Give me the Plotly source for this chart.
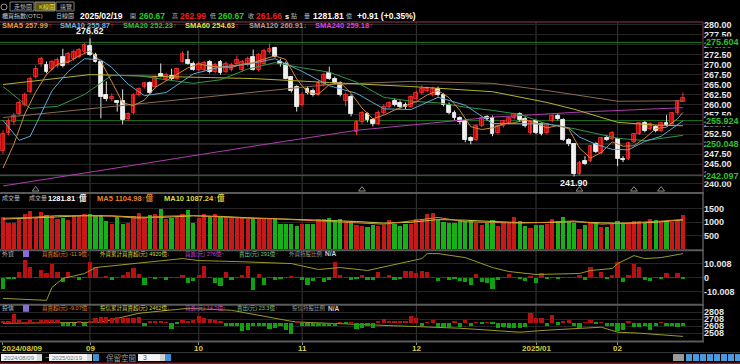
import plotly.graph_objects as go

W, H = 740, 364
def px(x): return x / W
def py(y): return 1 - y / H

# ---------------- data ----------------
tick_idx = [0, 16, 36, 55, 76, 98, 113]
tick_text = ["2024/08/09", "09", "10", "11", "12", "2025/01", "02"]

open_ = [248.3,252.8,255.5,257.7,260.0,263.2,267.0,270.2,270.0,269.0,269.8,272.0,270.8,271.5,272.0,273.2,274.8,272.5,270.8,262.5,
         261.5,260.8,260.8,256.3,257.8,262.5,264.5,265.3,264.5,267.8,266.5,267.3,266.5,270.8,271.3,270.3,268.8,268.8,270.8,268.3,
         270.8,268.3,268.8,270.3,268.8,270.0,272.0,268.8,270.3,273.3,274.3,270.8,270.3,266.8,264.5,259.8,264.0,263.5,262.5,265.0,
         268.0,266.5,265.3,261.0,262.0,253.0,255.5,257.5,256.0,255.0,258.0,259.3,261.0,260.5,260.0,259.5,261.5,262.8,263.3,262.5,
         264.0,262.5,260.0,258.0,256.5,255.8,251.5,251.0,254.5,256.8,256.5,252.8,254.5,255.3,256.5,257.5,256.3,252.8,255.8,255.0,
         252.8,255.8,257.0,256.0,251.0,250.0,242.5,245.8,245.8,250.0,247.8,251.5,251.3,251.3,246.3,246.3,250.5,252.5,255.3,253.8,
         254.3,253.3,255.3,255.0,257.8,260.67]
high = [253.5,256.5,257.8,261.0,263.0,267.0,269.8,272.0,270.8,271.2,271.8,274.0,273.2,273.8,274.2,275.5,276.62,273.0,271.0,265.8,
        262.8,261.0,263.8,258.0,262.8,264.3,265.5,265.8,267.3,270.3,268.0,269.0,269.3,273.3,273.5,270.8,270.8,271.0,271.2,270.5,
        271.2,270.8,270.5,272.3,271.2,272.0,273.8,273.0,274.0,275.3,274.5,271.5,270.8,267.0,264.8,263.0,264.5,264.0,266.0,268.0,
        269.5,267.0,265.8,263.0,262.5,256.0,258.3,258.0,256.5,258.5,260.0,260.8,261.5,261.0,260.5,262.3,263.5,264.8,264.5,264.5,
        264.5,262.8,260.5,258.5,257.0,256.0,252.0,255.0,257.0,257.3,257.2,254.8,256.0,256.8,257.8,258.0,256.8,256.0,256.2,255.5,
        255.3,257.5,257.8,256.5,251.5,250.3,245.8,247.0,249.8,250.5,251.8,252.3,253.3,251.5,247.0,250.5,252.8,255.5,255.8,255.5,
        254.8,255.5,257.3,258.0,261.0,262.99]
low = [247.5,252.2,254.8,257.2,259.5,262.8,266.5,269.5,267.8,268.5,269.2,269.3,270.3,271.0,271.6,272.8,272.2,270.5,256.5,260.8,
       260.8,258.2,255.0,255.8,257.5,262.0,264.0,262.5,264.0,266.8,266.0,266.0,266.2,270.5,270.0,268.5,268.3,268.3,267.8,267.8,
       267.5,267.8,268.3,269.8,268.3,269.5,268.5,268.3,270.0,272.8,271.8,269.5,266.3,263.0,258.2,259.5,262.5,262.0,262.2,264.5,
       266.2,265.0,262.0,259.5,257.0,252.3,255.0,255.5,254.5,254.8,257.5,259.0,259.5,259.0,258.8,259.2,261.0,262.5,263.0,262.0,
       262.0,259.5,257.5,256.0,255.0,250.5,250.0,250.8,254.3,256.0,252.0,252.5,254.2,255.0,256.2,255.8,254.2,252.5,252.5,252.2,
       252.5,255.5,256.0,250.8,249.5,241.9,242.2,244.8,245.5,247.8,247.5,250.8,251.0,244.5,245.5,246.0,250.3,252.3,253.0,253.5,
       253.0,253.0,254.5,254.8,257.5,260.67]
close = [252.5,255.8,257.0,260.3,262.5,266.5,269.0,271.5,268.2,270.8,271.2,269.8,272.8,273.2,273.8,275.0,272.5,270.8,262.0,261.3,
         262.0,260.5,256.0,257.5,262.5,264.0,265.3,262.8,267.0,267.0,267.5,266.3,269.0,272.8,270.3,268.8,270.3,270.5,268.3,270.0,
         268.0,270.3,270.0,271.3,270.8,271.5,268.8,272.5,273.5,274.0,272.0,270.3,266.5,263.5,259.5,262.5,263.0,262.5,265.5,267.5,
         266.5,265.3,262.5,262.3,257.5,255.5,257.8,256.0,255.0,258.0,259.5,260.3,260.0,259.5,259.3,261.8,263.0,263.8,264.0,264.0,
         262.5,260.0,258.0,256.5,255.5,251.0,250.8,254.5,256.5,256.3,252.5,254.5,255.8,256.5,257.5,256.0,254.5,255.8,252.8,252.5,
         255.0,257.0,256.3,251.0,250.0,242.5,245.3,245.0,249.5,248.0,251.5,251.0,252.8,246.3,246.0,250.3,252.5,255.3,253.3,255.0,
         253.3,255.3,254.8,257.8,260.8,261.66]
volume = [1204,969,969,1117,1327,1426,1179,1389,1265,1241,1142,1154,1080,1265,1265,1327,1327,1241,1278,1056,
          932,1204,957,994,1241,1364,1179,1265,1302,1488,1117,1179,1241,1327,1451,994,1154,1327,1241,1327,
          1241,1204,1179,1154,1204,1117,1179,1154,1154,1117,1117,932,957,932,870,932,932,932,1117,1117,
          1179,1080,1117,1056,1056,895,870,833,895,870,895,1080,932,870,932,932,1142,1142,1302,1364,
          1080,1031,969,994,1080,1056,1093,969,895,994,1080,870,1031,994,1216,1056,846,771,895,895,
          932,1117,1056,1204,1019,994,747,895,969,969,833,833,932,1056,969,932,1056,1056,1031,1117,
          1093,1031,1056,1031,1080,1281.81]
foreign_net = [-7.9,-0.4,-0.4,4.5,13.1,7.6,0.3,6.0,3.6,10.0,4.5,-3.1,4.5,0.4,-1.4,0.3,11.2,7.6,0.3,1.0,
               -1.4,0.3,1.7,4.0,6.9,2.9,-5.0,0.3,-0.3,0.3,-1.4,0.6,0.6,2.0,-3.6,-2.6,2.1,8.3,0.6,-3.6,
               -5.5,4.5,-1.4,0.3,2.1,8.3,-9.0,2.9,-5.0,0.3,-1.4,-0.3,0.3,1.2,0.3,-1.4,-5.0,-2.6,0.3,-3.1,
               -1.4,11.2,2.1,0.3,-1.4,-0.3,2.1,-1.4,-1.4,4.5,0.3,2.1,-1.4,-0.3,5.2,5.2,3.6,5.2,4.0,0.3,
               -2.6,0.3,-1.4,-0.3,-2.6,-3.1,-5.0,2.9,-3.1,-3.8,-7.9,-1.4,0.3,2.9,0.3,-0.6,-2.6,0.8,-3.6,3.6,
               -0.6,0.3,-0.3,0.3,0.6,0.6,2.1,-1.4,7.6,0.3,4.5,-0.6,2.1,11.7,-3.1,2.1,10.0,7.6,-1.4,-2.6,
               0.3,-0.3,3.6,0.3,3.6,-1.0]
foreign_cum_idx = [0,4,8,9,11,15,17,33,36,43,53,58,62,67,77,78,80,85,90,93,98,106,108,112,113,116,118,121,125]
foreign_cum = [-4305,-4510,-4715,-2050,-205,820,2050,3895,3485,3280,2870,1640,2050,1435,3895,4920,4920,4100,2050,1230,
               615,820,1435,1845,2870,4510,3895,4100,4920]
trust_net = [4.5,4.5,25.2,9.0,1.5,9.0,0.9,9.0,9.0,9.0,9.0,-9.0,-7.2,-7.2,4.5,-7.2,4.5,13.5,16.2,16.2,
             13.5,16.2,13.5,13.5,13.5,16.2,-9.0,2.7,2.7,2.7,0.9,-16.2,-0.9,7.2,4.5,9.0,19.8,13.5,11.7,7.2,
             2.7,-7.2,-7.2,-7.2,-22.5,-19.8,-7.2,-9.0,-7.2,-16.2,-13.5,-9.0,-18.0,-28.8,3.6,-7.2,-9.0,-7.2,-9.0,-7.2,
             -9.0,-7.2,0.9,-0.9,0.9,-16.2,-13.5,-9.0,-13.5,4.5,11.7,4.5,4.5,2.7,4.5,19.8,13.5,-7.2,0.9,9.0,
             -10.8,-10.8,-13.5,4.5,-10.8,7.2,-7.2,0.9,-0.9,0.9,-0.9,-13.5,-10.8,-13.5,-13.5,-13.5,-10.8,27.0,13.5,13.5,
             -7.2,22.5,-4.5,4.5,7.2,-7.2,-13.5,0.9,9.0,-0.9,1.8,-7.2,-7.2,-22.5,-18.0,3.6,-10.8,-10.8,-7.2,-18.0,
             -7.2,0.9,-9.0,-9.0,-10.8,-9.07]
trust_cum_idx = [0,18,25,34,42,53,55,68,77,84,95,97,100,110,113,117,125]
trust_cum = [2651,2665,2794,2865,2837,2679,2665,2622,2594,2579,2522,2537,2551,2594,2522,2508,2462]

sma5_idx = [0,2,4,6,8,10,12,14,16,18,20,22,24,26,28,30,32,34,36,38,40,42,44,46,48,50,52,54,56,58,60,62,64,66,68,70,
            72,74,76,78,80,82,84,86,88,90,92,94,96,98,100,102,104,106,108,110,112,114,116,118,120,122,124,125]
sma5 = [244.0,250.0,257.6,263.1,267.5,270.1,270.6,272.2,273.5,270.8,265.7,260.4,259.7,261.1,264.3,265.9,267.4,269.2,270.2,269.6,
        269.4,269.3,270.1,270.5,271.4,272.2,271.3,266.4,263.0,262.6,265.0,265.5,262.8,259.1,256.4,257.3,258.6,259.7,260.7,262.4,
        263.5,261.7,258.5,254.4,253.7,254.1,255.1,255.4,256.1,255.3,254.1,254.7,253.9,249.0,246.5,247.9,250.6,249.5,249.6,251.5,
        253.9,254.3,256.4,257.99]
sma10_idx = [0,3,5,9,12,15,18,20,23,26,30,35,40,45,50,55,60,65,70,75,80,85,90,95,100,104,106,109,112,115,118,121,125]
sma10 = [256.0,251.0,252.0,263.4,268.3,271.5,271.2,269.3,265.1,262.2,263.0,267.7,269.4,270.1,271.5,268.3,264.7,262.8,258.9,258.7,
         261.8,259.8,255.2,255.1,255.1,254.1,251.8,250.0,248.7,248.6,250.7,252.0,255.87]
sma20_idx = [0,5,10,15,20,25,30,35,40,45,50,55,60,65,70,75,80,85,90,95,100,105,110,113,118,125]
sma20 = [264.5,259.0,259.5,262.5,267.3,267.2,266.2,265.3,266.2,268.9,270.5,269.2,268.1,265.6,261.8,260.8,260.4,259.3,258.5,257.5,
         255.1,253.9,252.4,251.5,250.9,252.23]
sma60_idx = [0,16,30,46,60,75,90,100,105,113,120,125]
sma60 = [265.0,267.5,267.0,266.5,265.5,264.5,263.2,260.5,258.8,255.5,254.8,254.63]
sma120_idx = [0,20,46,60,75,90,100,105,113,125]
sma120 = [256.7,259.5,263.2,265.0,265.8,265.3,263.5,262.5,260.8,260.91]
sma240_idx = [0,25,46,65,90,105,125]
sma240 = [239.5,245.0,249.5,253.5,256.8,258.0,259.18]

vol_ma_idx = [0,5,10,15,20,25,30,35,40,45,50,55,60,65,70,75,80,85,90,95,100,105,110,115,120,125]
vol_ma5 = [1150,1180,1250,1250,1230,1150,1230,1250,1200,1150,1130,1080,1050,1000,930,1050,1180,1020,1000,970,
           1000,1050,930,970,1030,1104.98]
vol_ma10 = [1120,1150,1200,1250,1240,1190,1190,1240,1220,1170,1140,1100,1070,1030,970,1000,1100,1080,1030,990,
            990,1020,980,960,1000,1087.24]

level_vals = [275.604, 255.924, 250.048, 242.097]
level_text = ["275.604", "255.924", "250.048", "242.097"]
signal_idx = [6, 66, 106, 116, 121]

hi_idx, hi_val = 16, 276.62
lo_idx, lo_val = 105, 241.90

N = len(close)
idx = list(range(N))
up = [c >= o for o, c in zip(open_, close)]

RED = "#c81818"
GRN = "#18b018"
LAT = "Liberation Sans, Noto Sans CJK TC"

fig = go.Figure()

# ---- candles: wicks + bodies ----
for is_up, col in [(True, "#ff2e2e"), (False, "#e4e4e4")]:
    wx, wy = [], []
    for i in idx:
        if up[i] == is_up:
            wx += [i, i, None]
            wy += [low[i], high[i], None]
    fig.add_trace(go.Scatter(x=wx, y=wy, mode="lines", line=dict(color=col, width=1),
                             xaxis="x", yaxis="y", hoverinfo="skip"))
for is_up, fill, edge in [(True, "#b00000", "#ff3434"), (False, "#f6f6f6", "#ffffff")]:
    bx = [i for i in idx if up[i] == is_up]
    base = [min(open_[i], close[i]) for i in bx]
    hgt = [max(abs(close[i] - open_[i]), 0.12) for i in bx]
    fig.add_trace(go.Bar(x=bx, y=hgt, base=base, width=0.7,
                         marker=dict(color=fill, line=dict(color=edge, width=0.8)),
                         xaxis="x", yaxis="y", hoverinfo="skip"))

ma_specs = [(sma240_idx, sma240, "#b03cb0"), (sma120_idx, sma120, "#8c6a52"),
            (sma60_idx, sma60, "#b4b42c"), (sma20_idx, sma20, "#2e9a46"),
            (sma10_idx, sma10, "#5aaad2"), (sma5_idx, sma5, "#d08a3a")]
for xi, yv, col in ma_specs:
    fig.add_trace(go.Scatter(x=xi, y=yv, mode="lines", line=dict(color=col, width=1),
                             xaxis="x", yaxis="y", hoverinfo="skip"))

fig.add_trace(go.Scatter(x=signal_idx, y=[238.6] * len(signal_idx), mode="markers",
                         marker=dict(symbol="triangle-up-open", size=6, color="#8a8a8a", line=dict(width=1)),
                         xaxis="x", yaxis="y", hoverinfo="skip"))

vcol = [RED if u else GRN for u in up]
fig.add_trace(go.Bar(x=idx, y=volume, marker=dict(color=vcol, line=dict(width=0)), width=0.78,
                     xaxis="x", yaxis="y2", hoverinfo="skip"))
fig.add_trace(go.Scatter(x=vol_ma_idx, y=vol_ma10, mode="lines", line=dict(color="#c8c83c", width=1),
                         xaxis="x", yaxis="y2", hoverinfo="skip"))
fig.add_trace(go.Scatter(x=vol_ma_idx, y=vol_ma5, mode="lines", line=dict(color="#e0842c", width=1),
                         xaxis="x", yaxis="y2", hoverinfo="skip"))

fcol = ["#b81010" if v >= 0 else "#10a010" for v in foreign_net]
fig.add_trace(go.Bar(x=idx, y=foreign_net, marker=dict(color=fcol, line=dict(width=0)), width=0.78,
                     xaxis="x", yaxis="y3", hoverinfo="skip"))
fig.add_trace(go.Scatter(x=foreign_cum_idx, y=foreign_cum, mode="lines", line=dict(color="#9a9a2a", width=1),
                         xaxis="x", yaxis="y4", hoverinfo="skip"))

tcol = ["#b81010" if v >= 0 else "#10a010" for v in trust_net]
fig.add_trace(go.Bar(x=idx, y=trust_net, marker=dict(color=tcol, line=dict(width=0)), width=0.78,
                     xaxis="x", yaxis="y6", hoverinfo="skip"))
fig.add_trace(go.Scatter(x=trust_cum_idx, y=trust_cum, mode="lines", line=dict(color="#9a9a2a", width=1),
                         xaxis="x", yaxis="y5", hoverinfo="skip"))

XMAX = 703
tickfont = dict(family="Liberation Sans", size=9, color="#e6e6e6", weight="bold")
common_y = dict(side="right", anchor="x", showline=False, zeroline=False, ticks="",
                tickfont=tickfont, gridcolor="#262626", gridwidth=1, fixedrange=True)

fig.update_layout(
    width=W, height=H, margin=dict(l=0, r=0, t=0, b=0),
    paper_bgcolor="#000000", plot_bgcolor="#000000", showlegend=False, barmode="overlay", bargap=0,
    xaxis=dict(domain=[0, px(XMAX)], range=[-0.55, 128.7], anchor="y5", showgrid=False, zeroline=False,
               showline=False, tickvals=tick_idx, ticktext=[""] * len(tick_idx), ticks="outside",
               ticklen=3, tickcolor="#8a8a8a", fixedrange=True),
    yaxis=dict(domain=[py(191), py(20)], range=[238.0, 280.75],
               tickvals=[240 + 2.5 * k for k in range(17)], tickformat=".2f", **common_y),
    yaxis2=dict(domain=[py(249), py(192)], range=[-18.5, 2093], tickvals=[500, 1000, 1500], **common_y),
    yaxis3=dict(domain=[py(304), py(250)], range=[-19.3, 19.3], tickvals=[-10.008, 0, 10.008],
                ticktext=["-10.008", "0", "10.008"], **common_y),
    yaxis4=dict(overlaying="y3", anchor="x", range=[-5535, 5535], visible=False, fixedrange=True),
    yaxis5=dict(domain=[py(341), py(305)], range=[2394, 2908], tickvals=[2508, 2608, 2708, 2808], **common_y),
    yaxis6=dict(overlaying="y5", anchor="x", range=[-48.6, 48.6], visible=False, fixedrange=True),
)

shapes = []
for t in tick_idx[1:]:
    shapes.append(dict(type="line", xref="x", yref="paper", x0=t, x1=t, y0=py(341), y1=py(20),
                       line=dict(color="#3a3a3a", width=1), layer="below"))
for v in level_vals:
    shapes.append(dict(type="line", xref="paper", yref="y", x0=0, x1=px(XMAX), y0=v, y1=v,
                       line=dict(color="#1f7a1f", width=1), layer="below"))
for yy in [192, 249.5, 304.5, 341.5]:
    shapes.append(dict(type="line", xref="paper", yref="paper", x0=0, x1=px(XMAX + 1), y0=py(yy), y1=py(yy),
                       line=dict(color="#5a5a5a", width=2)))
shapes.append(dict(type="line", xref="paper", yref="paper", x0=px(XMAX), x1=px(XMAX), y0=py(342), y1=py(192),
                   line=dict(color="#5a5a5a", width=1.5)))
shapes.append(dict(type="line", xref="paper", yref="paper", x0=0, x1=px(XMAX), y0=py(20), y1=py(20),
                   line=dict(color="#5c2a36", width=1.5)))
shapes.append(dict(type="line", xref="paper", yref="paper", x0=px(XMAX), x1=px(XMAX), y0=py(191), y1=py(20),
                   line=dict(color="#5c2a36", width=1.5)))
shapes.append(dict(type="line", xref="paper", yref="paper", x0=0, x1=1, y0=py(352.5), y1=py(352.5),
                   line=dict(color="#3a3a3a", width=1)))
shapes.append(dict(type="line", xref="paper", yref="paper", x0=0, x1=1, y0=py(363.3), y1=py(363.3),
                   line=dict(color="#7a2424", width=1.5)))
for (x0, x1, fc) in [(1, 37, "#f4f4f4"), (37, 42, "#d8d8d8"), (49, 87, "#f4f4f4"), (87, 92, "#d8d8d8"),
                     (93, 99, "#3d8fd8"), (138, 160, "#f4f4f4"), (160, 165, "#d0d0d0"), (165, 171, "#3d8fd8"),
                     (673, 684, "#9a9a9a")]:
    shapes.append(dict(type="rect", xref="paper", yref="paper", x0=px(x0), x1=px(x1), y0=py(361), y1=py(354),
                       fillcolor=fc, line=dict(width=0)))
for k in range(8):
    x0 = 686 + k * 7
    shapes.append(dict(type="rect", xref="paper", yref="paper", x0=px(x0), x1=px(x0 + 6), y0=py(361), y1=py(354),
                       fillcolor="#4a9ae0", line=dict(width=0)))
shapes.append(dict(type="rect", xref="paper", yref="paper", x0=px(35), x1=px(55), y0=py(9), y1=py(0),
                   fillcolor="#5a5a12", line=dict(color="#8a8a8a", width=1)))
for (x0, x1) in [(10, 34), (56, 74)]:
    shapes.append(dict(type="rect", xref="paper", yref="paper", x0=px(x0), x1=px(x1), y0=py(9), y1=py(0),
                       fillcolor="#000000", line=dict(color="#7a7a7a", width=1)))
shapes.append(dict(type="circle", xref="paper", yref="paper", x0=px(1), x1=px(7), y0=py(8), y1=py(2),
                   line=dict(color="#9a9a9a", width=1)))
for yy in [253, 308]:
    shapes.append(dict(type="rect", xref="paper", yref="paper", x0=px(23), x1=px(29), y0=py(yy + 3.5),
                       y1=py(yy - 3.5), fillcolor="#8a6ad8", line=dict(width=0)))
fig.update_layout(shapes=shapes)

ann = []
def txt(x, y, s, color="#cfcfcf", size=8, bold=False, anchor="left", fam=LAT):
    ann.append(dict(x=px(x), y=py(y), xref="paper", yref="paper", xanchor=anchor, yanchor="middle",
                    text=("<b>%s</b>" % s) if bold else s, showarrow=False,
                    font=dict(family=fam, size=size, color=color)))

UP = "<span style='color:#ff3030'>↑</span>"
DN = "<span style='color:#20d020'>↓</span>"

txt(12, 5, "走勢圖", "#bdbdbd", 6)
txt(37, 5, "K線圖", "#e8e040", 6)
txt(58, 5, "速覽", "#bdbdbd", 6)

y2 = 14.5
txt(0, y2, "櫃買指數(OTC)", "#c8c8c8", 6)
txt(54, y2, "日線圖", "#c8c8c8", 6)
txt(78, y2, "2025/02/19", "#ffffff", 8.5, True)
txt(128, y2, "開", "#bdbdbd", 6)
txt(137, y2, "260.67", "#22d022", 8.5, True)
txt(170, y2, "高", "#bdbdbd", 6)
txt(178, y2, "262.99", "#e82020", 8.5, True)
txt(208, y2, "低", "#bdbdbd", 6)
txt(216, y2, "260.67", "#22d022", 8.5, True)
txt(246, y2, "收", "#bdbdbd", 6)
txt(254, y2, "261.66", "#e82020", 8.5, True)
txt(283, y2, "s", "#ffffff", 7.5, True)
txt(289, y2, "點", "#bdbdbd", 6)
txt(302, y2, "量", "#bdbdbd", 6)
txt(311, y2, "1281.81", "#ffffff", 8.5, True)
txt(344, y2, "億", "#bdbdbd", 6)
txt(355, y2, "+0.91 (+0.35%)", "#ffffff", 8.5, True)

y3 = 24
txt(0, y3, "SMA5 257.99" + UP, "#e8983a", 7.5, True)
txt(58, y3, "SMA10 255.87" + UP, "#6cb4e0", 7.5, True)
txt(121, y3, "SMA20 252.23" + UP, "#30c030", 7.5, True)
txt(183, y3, "SMA60 254.63" + UP, "#e0e040", 7.5, True)
txt(247, y3, "SMA120 260.91" + DN, "#b89a88", 7.5, True)
txt(313, y3, "SMA240 259.18" + UP, "#e040e0", 7.5, True)

yv = 197.5
txt(0, yv, "成交量", "#bdbdbd", 6)
txt(27, yv, "成交量", "#bdbdbd", 6)
txt(46, yv, "1281.81" + UP + "億", "#ffffff", 7.5, True)
txt(95, yv, "MA5 1104.98" + UP + "億", "#e0842c", 7.5, True)
txt(162, yv, "MA10 1087.24" + UP + "億", "#d8d840", 7.5, True)

yf = 253
txt(0, yf, "外資", "#bdbdbd", 6)
txt(40, yf, "買賣超(元) -11.9億" + DN, "#e0842c", 5.5)
txt(98, yf, "外資累計買賣超(元) 4920億" + DN, "#d8d840", 5.5)
txt(183, yf, "買進(元) 276億" + UP, "#d040d0", 5.5)
txt(237, yf, "賣出(元) 291億" + UP, "#80c080", 5.5)
txt(287, yf, "外資持股比例", "#9a9a9a", 5.5)
txt(323, yf, "N/A", "#d0d0d0", 6.5, True)

yt = 308
txt(0, yt, "投信", "#bdbdbd", 6)
txt(40, yt, "買賣超(元) -9.07億" + UP, "#e0842c", 5.5)
txt(98, yt, "投信累計買賣超(元) 2462億" + DN, "#d8d840", 5.5)
txt(183, yt, "買進(元) 14.2億" + UP, "#d040d0", 5.5)
txt(235, yt, "賣出(元) 23.3億" + UP, "#80c080", 5.5)
txt(290, yt, "投信持股比例", "#9a9a9a", 5.5)
txt(326, yt, "N/A", "#d0d0d0", 6.5, True)

for k, (t, s) in enumerate(zip(tick_idx, tick_text)):
    xp = 3 + t * 5.44
    txt(0 if k == 0 else xp, 348.5, s, "#d8d040", 8, True, "left" if k == 0 else "center")

txt(2, 357.5, "2024/08/09", "#777777", 6)
txt(43, 357.5, "~", "#bdbdbd", 8)
txt(50, 357.5, "2025/02/19", "#777777", 6)
txt(104, 357.5, "保留空間", "#9a9a9a", 7.5)
txt(141, 357.5, "3", "#555555", 7)

for v, s in zip(level_vals, level_text):
    ann.append(dict(x=px(XMAX + 2), y=v, xref="paper", yref="y", xanchor="left", yanchor="middle",
                    text=s, showarrow=False, bgcolor="#000000", borderpad=0,
                    font=dict(family="Liberation Sans", size=9, color="#30c030", weight="bold")))

ann.append(dict(x=hi_idx, y=hi_val, xref="x", yref="y", xanchor="center", yanchor="bottom", text="276.62",
                showarrow=False, font=dict(family="Liberation Sans", size=9, color="#f0f0f0", weight="bold")))
ann.append(dict(x=lo_idx, y=lo_val, xref="x", yref="y", xanchor="center", yanchor="top", text="241.90",
                showarrow=False, font=dict(family="Liberation Sans", size=9, color="#f0f0f0", weight="bold")))

fig.update_layout(annotations=ann)
fig.write_html("out.html", config={"displayModeBar": False},
               post_script="document.body.style.margin='0';document.body.style.overflow='hidden';")
